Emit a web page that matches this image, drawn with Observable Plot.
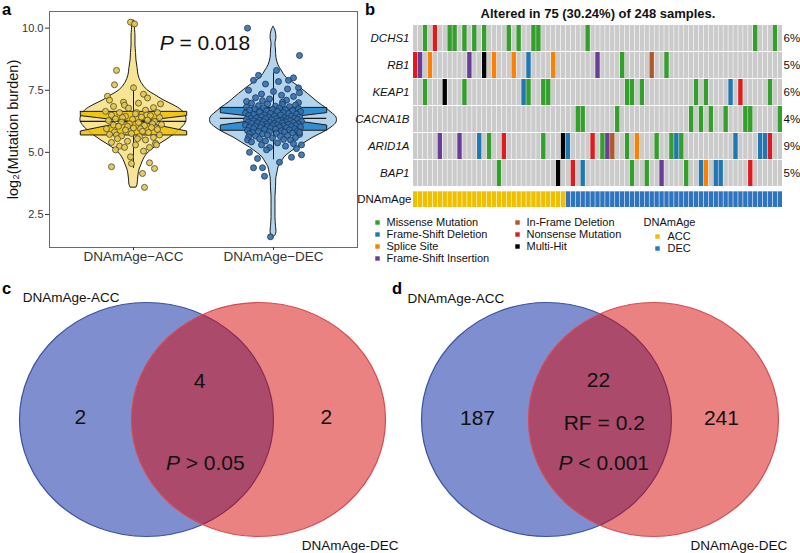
<!DOCTYPE html>
<html><head><meta charset="utf-8">
<script src="https://cdn.jsdelivr.net/npm/d3@7"></script>
<script src="https://cdn.jsdelivr.net/npm/@observablehq/plot@0.6"></script>
<style>
body{margin:0;background:#fff;font-family:"Liberation Sans",Arial,Helvetica,sans-serif;}
#root{position:relative;width:800px;height:553px;overflow:hidden;background:#fff;}
.panel{position:absolute;}
.panel svg{overflow:visible;}
.tag{position:absolute;font-weight:bold;font-size:16.5px;line-height:normal;color:#000;z-index:5;font-family:"Liberation Sans",Arial,sans-serif;}
</style></head><body><div id="root"></div>
<script>
// ---------------- Panel a data ----------------
const groups = ["DNAmAge\u2212ACC", "DNAmAge\u2212DEC"];
const groupPos = [1, 2];
const boxQ1 = [5.70, 5.89];
const boxMed = [6.25, 6.37];
const boxQ3 = [6.65, 6.81];
const notchLo = [5.86, 6.10];
const notchHi = [6.48, 6.60];
const whiskerLo = [4.35, 4.70];
const whiskerHi = [7.70, 8.20];
const pLabelA = "P = 0.018";
const yTitle = "log\u2082(Mutation burden)";
const yTicks = [2.5, 5.0, 7.5, 10.0];

// violin outlines: value and half-width (x units)
const accViolinY = [10.3,10.2,10.1,9.7,9.3,9.0,8.7,8.4,8.1,7.8,7.5,7.3,7.1,6.9,6.7,6.5,6.3,6.1,5.9,5.7,5.5,5.3,5.1,4.9,4.7,4.5,4.3,4.1,3.9,3.7,3.58];
const accViolinHalf = [0,0.02,0.011,0.014,0.014,0.018,0.021,0.029,0.036,0.057,0.1,0.157,0.214,0.286,0.343,0.371,0.379,0.364,0.329,0.286,0.236,0.179,0.129,0.093,0.071,0.057,0.043,0.036,0.032,0.029,0.021];
const decViolinY = [10.05,9.9,9.6,9.4,9.1,8.8,8.5,8.3,8.0,7.8,7.5,7.2,7.0,6.8,6.6,6.4,6.2,6.0,5.8,5.6,5.4,5.2,5.0,4.8,4.6,4.4,4.2,4.0,3.6,3.2,2.8,2.4,2.0,1.8,1.65,1.58];
const decViolinHalf = [0,0.014,0.021,0.014,0.018,0.021,0.036,0.057,0.093,0.143,0.214,0.279,0.321,0.371,0.414,0.45,0.45,0.414,0.357,0.286,0.229,0.171,0.121,0.079,0.057,0.036,0.029,0.021,0.018,0.014,0.014,0.014,0.018,0.021,0.014,0];

// points: [jitter (1/140 of a category step), log2 burden]
const accPoints = [[-3,10.24],[1,10.17],[-17,8.30],[-19,7.72],[0,7.60],[10,7.34],[-26,7.26],[14,7.19],[-24,7.10],[-10,7.02],[27,6.95],[5,6.98],[-9,6.90],[-20,6.85],[20,6.80],[-5,6.78],[12,6.70],[-28,6.65],[24,6.60],[-14,6.60],[3,6.60],[2,6.55],[13,6.50],[-22,6.50],[17,6.48],[-8,6.45],[8,6.42],[26,6.40],[-11,6.40],[-18,6.35],[-1,6.33],[14,6.30],[-25,6.28],[21,6.25],[-12,6.22],[5,6.20],[19,6.15],[-4,6.15],[28,6.12],[-20,6.10],[11,6.08],[-15,6.05],[-6,6.05],[18,6.00],[0,5.98],[-27,5.95],[7,5.95],[24,5.92],[-8,5.90],[9,5.85],[-19,5.82],[15,5.80],[-2,5.76],[-24,5.72],[-17,5.70],[26,5.70],[-12,5.66],[6,5.64],[20,5.60],[-16,5.55],[4,5.55],[12,5.50],[-6,5.45],[-22,5.40],[22,5.36],[2,5.30],[23,5.30],[-14,5.25],[16,5.20],[-9,5.20],[-18,5.10],[10,5.05],[-3,4.82],[-2,4.55],[16,4.58],[-22,4.42],[21,4.35],[9,4.15],[11,3.59]];
const decPoints = [[-26,10.00],[26,8.90],[3,8.30],[-15,8.10],[20,8.00],[15,7.90],[-20,7.90],[5,7.85],[25,7.60],[-8,7.75],[14,7.55],[-25,7.50],[0,7.45],[26,7.40],[-12,7.35],[8,7.30],[20,7.25],[-18,7.20],[-4,7.15],[13,7.10],[-27,7.05],[25,7.00],[-11,7.08],[9,7.02],
[-22,6.98],[-6,6.95],[9,6.93],[22,6.90],[-15,6.88],[2,6.86],[16,6.84],[-27,6.82],[-10,6.80],[6,6.78],[25,6.76],[-19,6.75],[-1,6.73],[12,6.72],[-24,6.70],[19,6.68],[-7,6.67],[4,6.65],[27,6.64],[-14,6.62],[10,6.60],[-28,6.58],[-3,6.57],[15,6.56],[23,6.54],[-20,6.52],[-9,6.51],[7,6.50],[-25,6.48],[1,6.47],[18,6.46],[-12,6.44],[26,6.43],[-5,6.42],[11,6.40],[-17,6.39],[21,6.38],[-23,6.37],[3,6.36],[-8,6.35],[14,6.34],[-27,6.33],[24,6.32],[-2,6.31],[8,6.30],[-14,6.29],[17,6.28],[-20,6.27],[5,6.26],[28,6.25],[-10,6.24],[12,6.23],[-25,6.22],[-4,6.21],[20,6.20],[-16,6.19],[9,6.18],[1,6.17],[-22,6.16],[25,6.15],[-7,6.14],[15,6.13],[-12,6.12],[4,6.11],[-28,6.10],[22,6.09],[-1,6.08],[10,6.07],[-18,6.06],[18,6.05],[-6,6.04],[27,6.03],[-24,6.02],[6,6.01],[-13,6.00],[13,5.99],[-3,5.98],[-20,5.96],[21,5.95],[2,5.94],[-9,5.92],[16,5.90],[-26,5.88],[8,5.87],[24,5.86],[-15,5.84],[-4,5.83],[11,5.82],[-21,5.80],[19,5.78],[3,5.76],[-24,5.75],[-11,5.74],[26,5.72],[-6,5.70],[14,5.68],[-18,5.66],[7,5.64],[-25,5.62],[22,5.60],[-1,5.58],[-14,5.55],[-26,5.50],[10,5.52],[17,5.50],[-8,5.46],[-22,5.42],[4,5.38],[20,5.35],[-12,5.30],[12,5.25],[-4,5.20],
[-20,4.38],[-11,4.38],[-9,4.04],[-7,5.10],[18,4.80],[23,5.15],[28,5.30],[28,4.90],[26,5.80],[-3,1.60],[-24,5.00],[-16,4.75],[6,4.60]];
const jitterUnit = 1 / 140;

// ---------------- Panel b data ----------------
const oncoTitle = "Altered in 75 (30.24%) of 248 samples.";
const nSamples = 75;
const accCount = 31;
const genes = ["DCHS1", "RB1", "KEAP1", "CACNA1B", "ARID1A", "BAP1"];
const genePct = ["6%", "5%", "6%", "4%", "9%", "5%"];
const mutCodes = ["M", "D", "S", "I", "F", "N", "H"];
const mutLabels = ["Missense Mutation", "Frame-Shift Deletion", "Splice Site", "Frame-Shift Insertion", "In-Frame Deletion", "Nonsense Mutation", "Multi-Hit"];
const mutColors = ["#33A02C", "#1F78B4", "#FF7F00", "#6A3D9A", "#B15928", "#E31A1C", "#000000"];
const ageGroups = ["ACC", "DEC"];
const ageColors = ["#EFC000", "#2E74C0"];
const mutDCHS1 = [[2,"M"],[4,"N"],[7,"M"],[8,"M"],[10,"M"],[12,"M"],[14,"M"],[19,"M"],[21,"M"],[24,"M"],[25,"M"],[35,"M"],[69,"M"],[73,"M"]];
const mutRB1 = [[0,"N"],[1,"I"],[3,"S"],[11,"I"],[14,"H"],[16,"S"],[20,"S"],[23,"D"],[28,"S"],[37,"I"],[42,"M"],[48,"F"],[51,"M"]];
const mutKEAP1 = [[2,"M"],[6,"H"],[10,"M"],[22,"D"],[23,"M"],[26,"M"],[27,"M"],[43,"M"],[44,"M"],[46,"M"],[57,"M"],[59,"M"],[64,"D"],[66,"N"],[72,"M"]];
const mutCACNA1B = [[33,"M"],[34,"M"],[41,"M"],[56,"M"],[58,"M"],[60,"M"],[63,"M"],[67,"M"],[68,"M"],[74,"M"]];
const mutARID1A = [[5,"I"],[9,"I"],[13,"D"],[15,"M"],[18,"N"],[26,"M"],[30,"H"],[31,"D"],[36,"N"],[38,"M"],[39,"I"],[40,"F"],[43,"M"],[45,"S"],[49,"M"],[52,"M"],[53,"D"],[54,"M"],[65,"D"],[70,"D"],[71,"D"],[72,"N"]];
const mutBAP1 = [[17,"M"],[29,"H"],[32,"N"],[34,"D"],[44,"M"],[47,"M"],[50,"I"],[55,"M"],[58,"D"],[59,"S"],[61,"D"],[62,"D"],[68,"N"]];

// ---------------- Panels c, d data ----------------
const setNames = ["DNAmAge-ACC", "DNAmAge-DEC"];
const vennCCounts = [2, 4, 2];
const vennCStat = "P > 0.05";
const vennDCounts = [187, 22, 241];
const vennDRF = "RF = 0.2";
const vennDStat = "P < 0.001";

// ---------------- helpers ----------------
const FONT = '"Liberation Sans", Arial, Helvetica, sans-serif';
const root = document.getElementById("root");
function place(node, left, top) {
  const d = document.createElement("div");
  d.className = "panel"; d.style.left = left + "px"; d.style.top = top + "px";
  d.appendChild(node); root.appendChild(d); return node;
}
function tag(txt, left, top) {
  const d = document.createElement("div");
  d.className = "tag"; d.textContent = txt; d.style.left = left + "px"; d.style.top = top + "px";
  root.appendChild(d);
}
const SVGNS = "http://www.w3.org/2000/svg";
function italicP(svg) {
  svg.querySelectorAll("text").forEach(t => {
    if (t.children.length === 0 && /^P [=<>]/.test(t.textContent)) {
      const rest = t.textContent.slice(1);
      t.textContent = "";
      const a = document.createElementNS(SVGNS, "tspan");
      a.setAttribute("font-style", "italic"); a.textContent = "P";
      const b = document.createElementNS(SVGNS, "tspan"); b.textContent = rest;
      t.append(a, b);
    }
  });
}
function squash(svg, k) {
  svg.querySelectorAll("circle").forEach(c => {
    const cx = +c.getAttribute("cx"), cy = +c.getAttribute("cy");
    c.setAttribute("transform", `translate(${cx},${cy}) scale(1,${k}) translate(${-cx},${-cy})`);
    c.setAttribute("vector-effect", "non-scaling-stroke");
  });
}

// ---------------- Panel a ----------------
const boxHalf = 0.38, notchInset = 0.04;
const violinA = accViolinY.map((y, i) => ({y, h: accViolinHalf[i]}));
const violinD = decViolinY.map((y, i) => ({y, h: decViolinHalf[i]}));
function notchPoly(i) {
  const c = groupPos[i], L = c - boxHalf, R = c + boxHalf;
  return [[L,boxQ3[i]],[R,boxQ3[i]],[R,notchHi[i]],[c+notchInset,boxMed[i]],[R,notchLo[i]],[R,boxQ1[i]],
          [L,boxQ1[i]],[L,notchLo[i]],[c-notchInset,boxMed[i]],[L,notchHi[i]],[L,boxQ3[i]]].map(([x,y]) => ({x,y}));
}
const ptsA = accPoints.map(([j, y]) => ({x: groupPos[0] + j * jitterUnit, y}));
const ptsD = decPoints.map(([j, y]) => ({x: groupPos[1] + j * jitterUnit, y}));

const plotA = Plot.plot({
  width: 362, height: 290, marginLeft: 49, marginRight: 5, marginTop: 11, marginBottom: 43,
  style: {fontFamily: FONT, background: "transparent", overflow: "visible"},
  x: {domain: [0.4, 2.6]},
  y: {domain: [1.17, 10.67]},
  marks: [
    Plot.areaX(violinA, {y: "y", x1: d => groupPos[0] - d.h, x2: d => groupPos[0] + d.h, fill: ageColors[0], fillOpacity: 0.42, stroke: "#1a1a1a", strokeWidth: 1, curve: "catmull-rom"}),
    Plot.areaX(violinD, {y: "y", x1: d => groupPos[1] - d.h, x2: d => groupPos[1] + d.h, fill: "#0073C2", fillOpacity: 0.3, stroke: "#1a1a1a", strokeWidth: 1, curve: "catmull-rom"}),
    Plot.ruleX([0, 1], {x: i => groupPos[i], y1: i => whiskerLo[i], y2: i => whiskerHi[i], stroke: "#1a1a1a", strokeWidth: 1}),
    Plot.line(notchPoly(0), {x: "x", y: "y", fill: ageColors[0], fillOpacity: 0.85, stroke: "#1a1a1a", strokeWidth: 1}),
    Plot.line(notchPoly(1), {x: "x", y: "y", fill: "#0073C2", fillOpacity: 0.72, stroke: "#1a1a1a", strokeWidth: 1}),
    Plot.ruleY([0, 1], {y: i => boxMed[i], x1: i => groupPos[i] - boxHalf, x2: i => groupPos[i] + boxHalf, stroke: "#1a1a1a", strokeWidth: 1.3}),
    Plot.dot(ptsA, {x: "x", y: "y", r: 3, fill: "#E3C64E", fillOpacity: 0.9, stroke: "#4a4630", strokeWidth: 0.8}),
    Plot.dot(ptsD, {x: "x", y: "y", r: 3, fill: "#3470AD", fillOpacity: 0.9, stroke: "#1c3555", strokeWidth: 0.8}),
    Plot.frame({stroke: "#6a6a6a"}),
    Plot.axisX({ticks: groupPos, tickFormat: d => groups[d - 1], fontSize: 13.5, tickSize: 3, tickPadding: 1, label: null, color: "#333"}),
    Plot.axisY({ticks: yTicks, tickFormat: d => d.toFixed(1), fontSize: 11, tickSize: 4, tickPadding: 2, label: null, color: "#333"}),
    Plot.text([yTitle], {frameAnchor: "left", textAnchor: "middle", dx: -36, rotate: -90, fontSize: 14.5, fill: "#111"}),
    Plot.text([pLabelA], {x: () => 1.51, y: () => 9.39, fontSize: 21, fill: "#111"})
  ]
});
italicP(plotA);
place(plotA, 0, 0);

// ---------------- Panel b ----------------
const cols = d3.range(nSamples);
const rowsAll = [...genes, "DNAmAge"];
const bgCells = d3.cross(cols, genes).map(([c, g]) => ({c, g}));
const mutRows = [mutDCHS1, mutRB1, mutKEAP1, mutCACNA1B, mutARID1A, mutBAP1];
const muts = [];
mutRows.forEach((arr, i) => arr.forEach(([c, t]) => muts.push({c, g: genes[i], t: mutLabels[mutCodes.indexOf(t)]})));
const ageCells = cols.map(c => ({c, g: "DNAmAge", t: c < accCount ? ageGroups[0] : ageGroups[1]}));

const plotB = Plot.plot({
  width: 510, height: 214, marginLeft: 123, marginRight: 18, marginTop: 24, marginBottom: 0,
  style: {fontFamily: FONT, background: "transparent", overflow: "visible"},
  x: {type: "band", domain: cols, paddingInner: 0.12, paddingOuter: 0, axis: null},
  y: {type: "band", domain: rowsAll, paddingInner: 0.037, paddingOuter: 0, axis: null},
  color: {domain: [...mutLabels, ...ageGroups], range: [...mutColors, ...ageColors]},
  marks: [
    Plot.cell(bgCells, {x: "c", y: "g", fill: "#CBCBCB"}),
    Plot.cell(muts, {x: "c", y: "g", fill: "t"}),
    Plot.cell(ageCells, {x: "c", y: "g", fill: "t", insetTop: 4.3, insetBottom: 6}),
    Plot.text(genes, {y: d => d, text: d => d, frameAnchor: "left", dx: -4, textAnchor: "end", fontStyle: "italic", fontSize: 11.5, fill: "#111"}),
    Plot.text(["DNAmAge"], {y: d => d, text: d => d, frameAnchor: "left", dx: -2, dy: -1, textAnchor: "end", fontSize: 11.5, fill: "#111"}),
    Plot.text(genes, {y: d => d, text: (d, i) => genePct[i], frameAnchor: "right", dx: 1, textAnchor: "start", fontSize: 11.5, fill: "#111"}),
    Plot.text([oncoTitle], {frameAnchor: "top", textAnchor: "middle", dy: -11, lineAnchor: "middle", fontWeight: "bold", fontSize: 13, fill: "#111"})
  ]
});
place(plotB, 290, 0);

// legend for b
const legendItems = mutLabels.map((label, i) => ({label, col: i < 4 ? 0 : 1, row: i < 4 ? i : i - 4}));
const ageItems = ageGroups.map((label, i) => ({label, col: 2, row: i + 1}));
const plotLeg = Plot.plot({
  width: 438, height: 60, margin: 0,
  style: {fontFamily: FONT, background: "transparent", overflow: "visible"},
  x: {type: "point", domain: [0, 1, 2], range: [15, 295], padding: 0, axis: null},
  y: {type: "point", domain: [0, 1, 2, 3], range: [9, 46.5], padding: 0, axis: null},
  color: {domain: [...mutLabels, ...ageGroups], range: [...mutColors, ...ageColors]},
  marks: [
    Plot.dot(legendItems, {x: "col", y: "row", fill: "label", symbol: "square", r: 2.5}),
    Plot.text(legendItems, {x: "col", y: "row", text: "label", dx: 9, textAnchor: "start", fontSize: 11, fill: "#111"}),
    Plot.text(["DNAmAge"], {x: () => 2, y: () => 0, dx: -14, textAnchor: "start", fontSize: 11, fill: "#111"}),
    Plot.dot(ageItems, {x: "col", y: "row", dy: 2, fill: "label", symbol: "square", r: 2.5}),
    Plot.text(ageItems, {x: "col", y: "row", dy: 2, text: "label", dx: 10, textAnchor: "start", fontSize: 11, fill: "#111"})
  ]
});
place(plotLeg, 362, 212);

// ---------------- Venn panels ----------------
function venn(opts) {
  const {counts, extra, xDomain, yDomain, r, k, labelPos} = opts;
  const circles = [{x: -1, y: 0}, {x: 1, y: 0}];
  const marks = [
    Plot.dot([circles[0]], {x: "x", y: "y", r, fill: "#001EA0", fillOpacity: 0.5, stroke: "#3D50A3", strokeWidth: 1.2}),
    Plot.dot([circles[1]], {x: "x", y: "y", r, fill: "#D70505", fillOpacity: 0.5, stroke: "#D64B53", strokeWidth: 1.2}),
    Plot.text(counts, {x: (d, i) => labelPos.cx[i], y: (d, i) => labelPos.cy[i], text: d => String(d), fontSize: 21, fill: "#111"}),
    Plot.text(extra, {x: (d, i) => labelPos.ex[i], y: (d, i) => labelPos.ey[i], text: d => d, fontSize: 21, fill: "#111"}),
    Plot.text([setNames[0]], {x: () => labelPos.sx[0], y: () => labelPos.sy[0], textAnchor: "start", fontSize: 13.5, fill: "#111"}),
    Plot.text([setNames[1]], {x: () => labelPos.sx[1], y: () => labelPos.sy[1], textAnchor: "end", fontSize: 13.5, fill: "#111"})
  ];
  const svg = Plot.plot({
    width: 400, height: 263, margin: 0,
    style: {fontFamily: FONT, background: "transparent", overflow: "visible"},
    x: {domain: xDomain, range: [0, 400], axis: null},
    y: {domain: yDomain, range: [0, 263], axis: null},
    marks
  });
  squash(svg, k);
  italicP(svg);
  return svg;
}
const vennC = venn({
  counts: vennCCounts, extra: [vennCStat],
  xDomain: [-3.607, 3.536], yDomain: [-2.304, 2.393], r: 127, k: 117 / 127,
  labelPos: {cx: [-2.18, -0.05, 2.21], cy: [-0.04, -0.68, -0.04], ex: [0.05], ey: [0.79], sx: [-3.21, 3.5], sy: [-2.18, 2.25]}
});
place(vennC, 0, 290);
const vennD = venn({
  counts: vennDCounts, extra: [vennDRF, vennDStat],
  xDomain: [-3.729, 3.748], yDomain: [-2.411, 2.505], r: 125, k: 117 / 125,
  labelPos: {cx: [-2.29, -0.03, 2.27], cy: [-0.02, -0.73, -0.02], ex: [0.08, 0.07], ey: [0.07, 0.82], sx: [-3.6, 3.5], sy: [-2.26, 2.355]}
});
place(vennD, 400, 290);

tag("a", 2, 0);
tag("b", 365, 0);
tag("c", 2, 279);
tag("d", 392, 279);
</script></body></html>
